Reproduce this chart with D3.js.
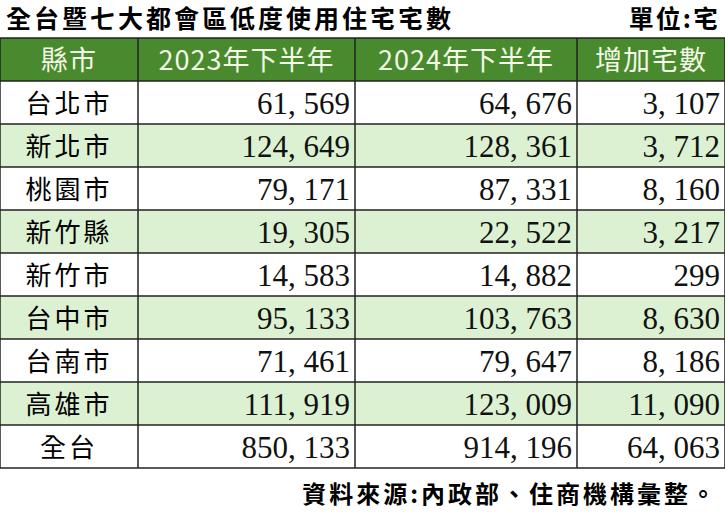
<!DOCTYPE html>
<html><head><meta charset="utf-8">
<script src="https://cdn.jsdelivr.net/npm/d3@7"></script>
<style>body{margin:0;background:#fff}</style>
</head><body><div id="chart"></div>
<script>
const title = "全台暨七大都會區低度使用住宅宅數";
const unit = "單位:宅";
const headers = ["縣市", "2023年下半年", "2024年下半年", "增加宅數"];
const cities = ["台北市", "新北市", "桃園市", "新竹縣", "新竹市", "台中市", "台南市", "高雄市", "全台"];
const h2023 = [61569, 124649, 79171, 19305, 14583, 95133, 71461, 111919, 850133];
const h2024 = [64676, 128361, 87331, 22522, 14882, 103763, 79647, 123009, 914196];
const added = [3107, 3712, 8160, 3217, 299, 8630, 8186, 11090, 64063];
const source = "資料來源:內政部、住商機構彙整。";

const W = 725, H = 512;
const colEdges = [0, 138, 355, 577, 725];
const tableTop = 38, rowH = 43;
const cjk = "'Noto Sans CJK TC', serif";
const num = "'Liberation Serif', 'DejaVu Serif', serif";

const svg = d3.select('#chart').append('svg').attr('width', W).attr('height', H);

const y = d3.scaleBand().domain(d3.range(cities.length + 1)).range([tableTop, tableTop + rowH * (cities.length + 1)]);

svg.append('text').attr('x', 6).attr('y', 28).attr('font-family', cjk).attr('font-weight', 'bold')
  .attr('font-size', 25).attr('letter-spacing', 3).text(title);
svg.append('text').attr('x', 720).attr('y', 28).attr('text-anchor', 'end').attr('font-family', cjk)
  .attr('font-weight', 'bold').attr('font-size', 25).attr('letter-spacing', 2).text(unit);

// header
svg.append('rect').attr('x', 0).attr('y', y(0)).attr('width', W).attr('height', rowH).attr('fill', '#4a8a2e');
headers.forEach((h, i) => {
  svg.append('text').attr('x', (colEdges[i] + colEdges[i + 1]) / 2).attr('y', y(0) + rowH / 2 + 10)
    .attr('text-anchor', 'middle').attr('fill', '#f3f9e6').attr('font-family', cjk).attr('font-size', 27)
    .attr('letter-spacing', 1).text(h);
});

const fmt = d3.format(',');
const rows = cities.map((c, i) => [c, h2023[i], h2024[i], added[i]]);
const g = svg.selectAll('.row').data(rows).enter().append('g')
  .attr('transform', (d, i) => `translate(0,${y(i + 1)})`);
g.append('rect').attr('width', W).attr('height', rowH).attr('fill', (d, i) => i % 2 ? '#dcf1d2' : '#fff');
g.append('text').attr('x', (colEdges[0] + colEdges[1]) / 2).attr('y', rowH / 2 + 10).attr('text-anchor', 'middle')
  .attr('font-family', cjk).attr('font-size', 26).attr('letter-spacing', 3).text(d => d[0]);
[1, 2, 3].forEach(k => {
  g.append('text').attr('x', colEdges[k + 1] - 5).attr('y', rowH / 2 + 11).attr('text-anchor', 'end')
    .attr('font-family', num).attr('font-size', 31).attr('fill', '#111')
    .text(d => fmt(d[k]).replace(',', ', '));
});

// grid
const bottom = y(cities.length) + rowH;
d3.range(cities.length + 2).forEach(i => {
  const yy = i <= cities.length ? y(i) : bottom;
  svg.append('line').attr('x1', 0).attr('x2', W).attr('y1', yy).attr('y2', yy).attr('stroke', '#222').attr('stroke-width', 1.5);
});
colEdges.forEach(x => {
  svg.append('line').attr('x1', x).attr('x2', x).attr('y1', tableTop).attr('y2', bottom).attr('stroke', '#222').attr('stroke-width', 1.5);
});

svg.append('text').attr('x', 718).attr('y', 503).attr('text-anchor', 'end').attr('font-family', cjk)
  .attr('font-weight', 'bold').attr('font-size', 24).attr('letter-spacing', 3).text(source);
</script></body></html>
